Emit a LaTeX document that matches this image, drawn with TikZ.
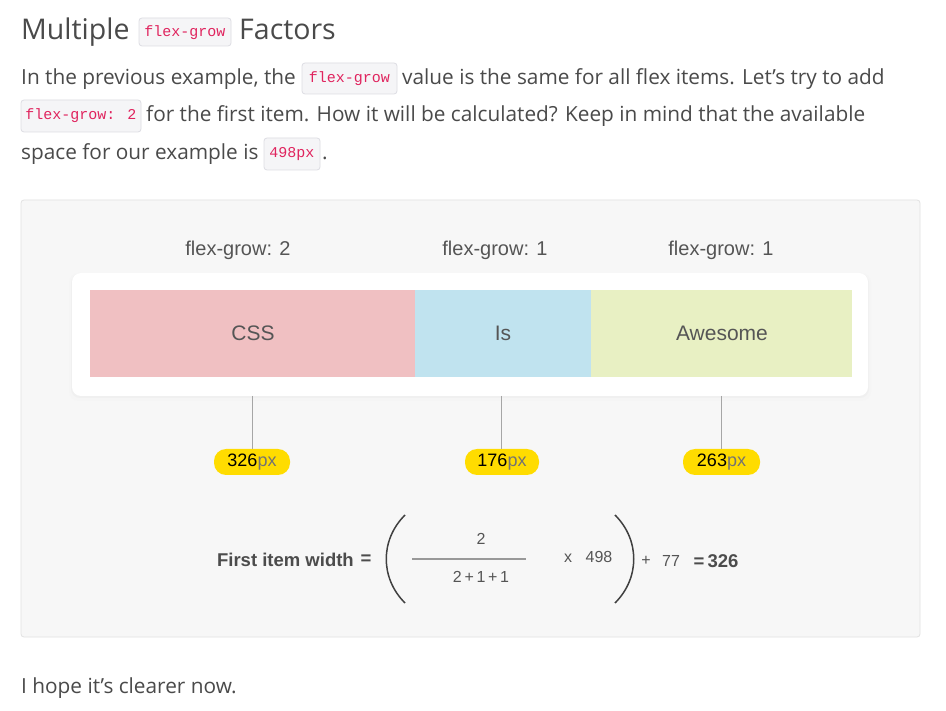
\documentclass[tikz,border=0pt]{standalone}
\usepackage{fontspec}
\setmainfont{Open Sans}
\newfontfamily\diafont{Liberation Sans}
\newfontfamily\codefont{Liberation Mono}
\definecolor{txt}{HTML}{4A4A4A}
\definecolor{codered}{HTML}{E0245E}
\definecolor{codebg}{HTML}{F5F5F7}
\definecolor{codeborder}{HTML}{DDDDE3}
\definecolor{panel}{HTML}{F7F7F7}
\definecolor{panelborder}{HTML}{E2E2E2}
\definecolor{pinkc}{HTML}{F0C0C2}
\definecolor{bluec}{HTML}{C0E3EF}
\definecolor{greenc}{HTML}{E8F0C3}
\definecolor{pillc}{HTML}{FFDC00}
\definecolor{dtxt}{HTML}{555555}
\tikzset{
  body/.style={anchor=base west, inner sep=0pt, text=txt, font=\fontsize{20.8}{24}\selectfont},
  codebox/.style={draw=codeborder, fill=codebg, rounded corners=3pt, line width=0.8pt},
  codetxt/.style={inner sep=0pt, text=codered, font=\codefont\fontsize{15}{17}\selectfont},
  flexlbl/.style={inner sep=0pt, text=dtxt, font=\diafont\fontsize{20}{22}\selectfont},
  itemlbl/.style={inner sep=0pt, text=dtxt, font=\diafont\fontsize{21}{24}\selectfont},
  pill/.style={fill=pillc, rounded corners=12pt, minimum width=76pt, minimum height=26pt, inner sep=0pt, font=\diafont\fontsize{18}{20}\selectfont},
  conn/.style={draw=black!35, line width=1pt},
  ftxt/.style={inner sep=0pt, text=dtxt, font=\diafont\fontsize{16}{18}\selectfont},
  fbold/.style={inner sep=0pt, text=dtxt!90!black, font=\diafont\bfseries\fontsize{18.5}{20}\selectfont},
}
\begin{document}
\begin{tikzpicture}[x=1pt,y=-1pt]
\useasboundingbox[fill=white] (0,0) rectangle (946,711);
% heading
\node[body, font=\fontsize{28.5}{32}\selectfont] (h1) at (21,40) {Multiple};
\draw[codebox] (139,18) rectangle (231,46);
\node[codetxt] (hc) at (185,33) {flex-grow};
\node[body, font=\fontsize{28.5}{32}\selectfont] (h2) at (239,40) {Factors};
% paragraph
\node[body] (l1a) at (21,85) {In the previous example, the};
\draw[codebox] (302,63) rectangle (397,94);
\node[codetxt] (c1) at (349.5,79) {flex-grow};
\node[body] (l1b) at (402,85) {value is the same for all flex items. Let’s try to add};
\draw[codebox] (21,100) rectangle (141,132);
\node[codetxt] (c2) at (81,116) {flex-grow: 2};
\node[body] (l2) at (146,122) {for the first item. How it will be calculated? Keep in mind that the available};
\node[body] (l3) at (21,160) {space for our example is};
\draw[codebox] (264,138) rectangle (320,170);
\node[codetxt] (c3) at (292,154) {498px};
\node[body] (l3b) at (322,160) {.};
% panel
\draw[draw=panelborder, fill=panel, rounded corners=3pt, line width=0.8pt] (21,200) rectangle (920,637);
\node[flexlbl] (f1) at (238,250) {flex-grow: 2};
\node[flexlbl] (f2) at (495,250) {flex-grow: 1};
\node[flexlbl] (f3) at (721,250) {flex-grow: 1};
% container
\fill[black!4, rounded corners=10pt] (69,273) rectangle (871,401);
\fill[black!6, rounded corners=9pt] (71,274) rectangle (869,398);
\fill[white, rounded corners=9pt] (72,273) rectangle (868,396);
\fill[pinkc] (90,290) rectangle (415,377);
\fill[bluec] (415,290) rectangle (591,377);
\fill[greenc] (591,290) rectangle (852,377);
\node[itemlbl] (i1) at (253,333) {CSS};
\node[itemlbl] (i2) at (503,333) {Is};
\node[itemlbl] (i3) at (722,333) {Awesome};
% pills and connectors
\node[pill] (p1) at (252,462) {\raisebox{-1pt}{\textcolor{black}{326}\textcolor{black!55}{px}}};
\node[pill, minimum width=74pt] (p2) at (502,462) {\raisebox{-1pt}{\textcolor{black}{176}\textcolor{black!55}{px}}};
\node[pill, minimum width=77pt] (p3) at (721.5,462) {\raisebox{-1pt}{\textcolor{black}{263}\textcolor{black!55}{px}}};
\coordinate (t1) at (252.5,396);
\coordinate (t2) at (501,396);
\coordinate (t3) at (721,396);
\draw[conn] (t1) -- (p1.north -| t1);
\draw[conn] (t2) -- (p2.north -| t2);
\draw[conn] (t3) -- (p3.north -| t3);
% formula
\node[fbold, anchor=east] (fw) at (354,560) {First item width};
\node[fbold] (eq1) at (366,560) {=};
\draw[line width=1.5pt, draw=black!75] (405,515) .. controls (380,540) and (380,578) .. (405,603);
\node[ftxt] (num) at (481,539) {2};
\draw[line width=1.2pt, draw=black!40] (412,559) -- (526,559);
\node[ftxt] (den) at (481,577) {2\,+\,1\,+\,1};
\node[ftxt] (times) at (568,558) {x};
\node[ftxt] (n498) at (599,557) {498};
\draw[line width=1.5pt, draw=black!75] (615,515) .. controls (640,540) and (640,578) .. (615,603);
\node[ftxt] (plus) at (646,561) {+};
\node[ftxt] (n77) at (671,561) {77};
\node[fbold] (res) at (716,561) {=\,326};
% closing
\node[body] (last) at (21,693) {I hope it’s clearer now.};
\end{tikzpicture}
\end{document}
